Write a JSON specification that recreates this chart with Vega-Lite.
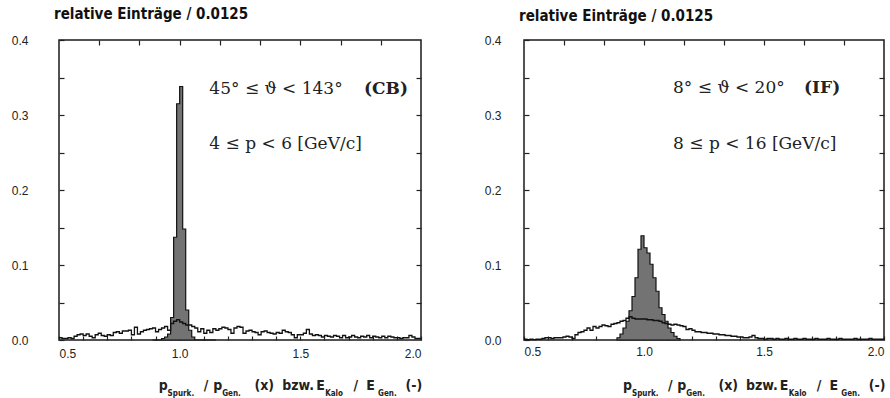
{
  "$schema": "https://vega.github.io/schema/vega-lite/v6.json",
  "background": "white",
  "autosize": {"type": "pad"},
  "padding": {"left": 10, "top": 6, "right": 2, "bottom": 0},
  "config": {
    "view": {"stroke": "#1a1a1a", "strokeWidth": 1.5},
    "axis": {"domain": false, "grid": false, "title": null, "labelFont": "Liberation Sans", "labelFontSize": 12, "labelColor": "#222", "tickColor": "#222", "tickWidth": 1.2},
    "title": {"font": "DejaVu Sans Condensed", "fontSize": 15, "fontWeight": "bold", "color": "#111", "anchor": "start", "frame": "group"}
  },
  "datasets": {
    "calo": [
      {"x": 0.5, "cb": 0.003, "fwd": 0.001}, {"x": 0.5125, "cb": 0.002, "fwd": 0.0005}, {"x": 0.525, "cb": 0.002, "fwd": 0.001}, {"x": 0.5375, "cb": 0.003, "fwd": 0.0005},
      {"x": 0.55, "cb": 0.002, "fwd": 0.001}, {"x": 0.5625, "cb": 0.005, "fwd": 0.001}, {"x": 0.575, "cb": 0.007, "fwd": 0.002}, {"x": 0.5875, "cb": 0.008, "fwd": 0.003},
      {"x": 0.6, "cb": 0.006, "fwd": 0.003}, {"x": 0.6125, "cb": 0.008, "fwd": 0.002}, {"x": 0.625, "cb": 0.005, "fwd": 0.003}, {"x": 0.6375, "cb": 0.003, "fwd": 0.003},
      {"x": 0.65, "cb": 0.007, "fwd": 0.003}, {"x": 0.6625, "cb": 0.009, "fwd": 0.004}, {"x": 0.675, "cb": 0.006, "fwd": 0.005}, {"x": 0.6875, "cb": 0.005, "fwd": 0.004},
      {"x": 0.7, "cb": 0.007, "fwd": 0.002}, {"x": 0.7125, "cb": 0.006, "fwd": 0.007}, {"x": 0.725, "cb": 0.010, "fwd": 0.010}, {"x": 0.7375, "cb": 0.011, "fwd": 0.011},
      {"x": 0.75, "cb": 0.009, "fwd": 0.013}, {"x": 0.7625, "cb": 0.012, "fwd": 0.016}, {"x": 0.775, "cb": 0.012, "fwd": 0.013}, {"x": 0.7875, "cb": 0.013, "fwd": 0.018},
      {"x": 0.8, "cb": 0.007, "fwd": 0.016}, {"x": 0.8125, "cb": 0.017, "fwd": 0.018}, {"x": 0.825, "cb": 0.008, "fwd": 0.020}, {"x": 0.8375, "cb": 0.011, "fwd": 0.019},
      {"x": 0.85, "cb": 0.013, "fwd": 0.018}, {"x": 0.8625, "cb": 0.014, "fwd": 0.021}, {"x": 0.875, "cb": 0.015, "fwd": 0.022}, {"x": 0.8875, "cb": 0.016, "fwd": 0.023},
      {"x": 0.9, "cb": 0.011, "fwd": 0.025}, {"x": 0.9125, "cb": 0.014, "fwd": 0.026}, {"x": 0.925, "cb": 0.016, "fwd": 0.029}, {"x": 0.9375, "cb": 0.018, "fwd": 0.031},
      {"x": 0.95, "cb": 0.013, "fwd": 0.029}, {"x": 0.9625, "cb": 0.022, "fwd": 0.028}, {"x": 0.975, "cb": 0.025, "fwd": 0.028}, {"x": 0.9875, "cb": 0.027, "fwd": 0.028},
      {"x": 1.0, "cb": 0.024, "fwd": 0.028}, {"x": 1.0125, "cb": 0.022, "fwd": 0.027}, {"x": 1.025, "cb": 0.020, "fwd": 0.027}, {"x": 1.0375, "cb": 0.020, "fwd": 0.026},
      {"x": 1.05, "cb": 0.018, "fwd": 0.026}, {"x": 1.0625, "cb": 0.016, "fwd": 0.025}, {"x": 1.075, "cb": 0.011, "fwd": 0.023}, {"x": 1.0875, "cb": 0.015, "fwd": 0.022},
      {"x": 1.1, "cb": 0.009, "fwd": 0.021}, {"x": 1.1125, "cb": 0.013, "fwd": 0.020}, {"x": 1.125, "cb": 0.010, "fwd": 0.021}, {"x": 1.1375, "cb": 0.015, "fwd": 0.020},
      {"x": 1.15, "cb": 0.013, "fwd": 0.019}, {"x": 1.1625, "cb": 0.015, "fwd": 0.018}, {"x": 1.175, "cb": 0.017, "fwd": 0.014}, {"x": 1.1875, "cb": 0.016, "fwd": 0.015},
      {"x": 1.2, "cb": 0.014, "fwd": 0.013}, {"x": 1.2125, "cb": 0.009, "fwd": 0.011}, {"x": 1.225, "cb": 0.016, "fwd": 0.011}, {"x": 1.2375, "cb": 0.018, "fwd": 0.010},
      {"x": 1.25, "cb": 0.017, "fwd": 0.010}, {"x": 1.2625, "cb": 0.009, "fwd": 0.009}, {"x": 1.275, "cb": 0.012, "fwd": 0.009}, {"x": 1.2875, "cb": 0.013, "fwd": 0.008},
      {"x": 1.3, "cb": 0.011, "fwd": 0.008}, {"x": 1.3125, "cb": 0.010, "fwd": 0.007}, {"x": 1.325, "cb": 0.007, "fwd": 0.007}, {"x": 1.3375, "cb": 0.011, "fwd": 0.006},
      {"x": 1.35, "cb": 0.012, "fwd": 0.006}, {"x": 1.3625, "cb": 0.010, "fwd": 0.005}, {"x": 1.375, "cb": 0.009, "fwd": 0.005}, {"x": 1.3875, "cb": 0.008, "fwd": 0.004},
      {"x": 1.4, "cb": 0.010, "fwd": 0.004}, {"x": 1.4125, "cb": 0.009, "fwd": 0.003}, {"x": 1.425, "cb": 0.013, "fwd": 0.003}, {"x": 1.4375, "cb": 0.011, "fwd": 0.004},
      {"x": 1.45, "cb": 0.010, "fwd": 0.006}, {"x": 1.4625, "cb": 0.007, "fwd": 0.003}, {"x": 1.475, "cb": 0.003, "fwd": 0.002}, {"x": 1.4875, "cb": 0.007, "fwd": 0.002},
      {"x": 1.5, "cb": 0.007, "fwd": 0.001}, {"x": 1.5125, "cb": 0.009, "fwd": 0.002}, {"x": 1.525, "cb": 0.014, "fwd": 0.002}, {"x": 1.5375, "cb": 0.008, "fwd": 0.001},
      {"x": 1.55, "cb": 0.006, "fwd": 0.002}, {"x": 1.5625, "cb": 0.007, "fwd": 0.001}, {"x": 1.575, "cb": 0.006, "fwd": 0.001}, {"x": 1.5875, "cb": 0.004, "fwd": 0.002},
      {"x": 1.6, "cb": 0.006, "fwd": 0.001}, {"x": 1.6125, "cb": 0.005, "fwd": 0.001}, {"x": 1.625, "cb": 0.004, "fwd": 0.002}, {"x": 1.6375, "cb": 0.006, "fwd": 0.001},
      {"x": 1.65, "cb": 0.005, "fwd": 0.001}, {"x": 1.6625, "cb": 0.003, "fwd": 0.002}, {"x": 1.675, "cb": 0.006, "fwd": 0.001}, {"x": 1.6875, "cb": 0.003, "fwd": 0.001},
      {"x": 1.7, "cb": 0.004, "fwd": 0.001}, {"x": 1.7125, "cb": 0.006, "fwd": 0.002}, {"x": 1.725, "cb": 0.004, "fwd": 0.001}, {"x": 1.7375, "cb": 0.003, "fwd": 0.001},
      {"x": 1.75, "cb": 0.005, "fwd": 0.001}, {"x": 1.7625, "cb": 0.004, "fwd": 0.002}, {"x": 1.775, "cb": 0.006, "fwd": 0.001}, {"x": 1.7875, "cb": 0.003, "fwd": 0.001},
      {"x": 1.8, "cb": 0.005, "fwd": 0.001}, {"x": 1.8125, "cb": 0.004, "fwd": 0.002}, {"x": 1.825, "cb": 0.003, "fwd": 0.001}, {"x": 1.8375, "cb": 0.005, "fwd": 0.001},
      {"x": 1.85, "cb": 0.003, "fwd": 0.001}, {"x": 1.8625, "cb": 0.005, "fwd": 0.001}, {"x": 1.875, "cb": 0.004, "fwd": 0.002}, {"x": 1.8875, "cb": 0.003, "fwd": 0.001},
      {"x": 1.9, "cb": 0.003, "fwd": 0.001}, {"x": 1.9125, "cb": 0.002, "fwd": 0.001}, {"x": 1.925, "cb": 0.003, "fwd": 0.001}, {"x": 1.9375, "cb": 0.003, "fwd": 0.002},
      {"x": 1.95, "cb": 0.006, "fwd": 0.001}, {"x": 1.9625, "cb": 0.004, "fwd": 0.001}, {"x": 1.975, "cb": 0.002, "fwd": 0.001}, {"x": 1.9875, "cb": 0.002, "fwd": 0.001},
      {"x": 2.0, "cb": 0.002, "fwd": 0.001}
    ],
    "track": [
      {"x": 0.8875, "cb": 0, "fwd": 0.003}, {"x": 0.9, "cb": 0, "fwd": 0.008}, {"x": 0.9125, "cb": 0, "fwd": 0.016}, {"x": 0.925, "cb": 0.002, "fwd": 0.025},
      {"x": 0.9375, "cb": 0.004, "fwd": 0.039}, {"x": 0.95, "cb": 0.008, "fwd": 0.058}, {"x": 0.9625, "cb": 0.03, "fwd": 0.083}, {"x": 0.975, "cb": 0.137, "fwd": 0.121},
      {"x": 0.9875, "cb": 0.315, "fwd": 0.139}, {"x": 1.0, "cb": 0.338, "fwd": 0.123}, {"x": 1.0125, "cb": 0.148, "fwd": 0.116}, {"x": 1.025, "cb": 0.04, "fwd": 0.101},
      {"x": 1.0375, "cb": 0.013, "fwd": 0.083}, {"x": 1.05, "cb": 0.004, "fwd": 0.065}, {"x": 1.0625, "cb": 0, "fwd": 0.043}, {"x": 1.075, "cb": 0, "fwd": 0.034},
      {"x": 1.0875, "cb": 0, "fwd": 0.025}, {"x": 1.1, "cb": 0, "fwd": 0.016}, {"x": 1.1125, "cb": 0, "fwd": 0.01}, {"x": 1.125, "cb": 0, "fwd": 0.005},
      {"x": 1.1375, "cb": 0, "fwd": 0.002}, {"x": 1.15, "cb": 0, "fwd": 0}
    ],
    "xtitle": [
      {"x": 0.913, "y": -0.061, "t": "p"}, {"x": 1.10, "y": -0.061, "t": "/"}, {"x": 1.139, "y": -0.061, "t": "p"},
      {"x": 1.31, "y": -0.061, "t": "(x)"}, {"x": 1.425, "y": -0.061, "t": "bzw."}, {"x": 1.566, "y": -0.061, "t": "E"},
      {"x": 1.72, "y": -0.061, "t": "/"}, {"x": 1.773, "y": -0.061, "t": "E"}, {"x": 1.936, "y": -0.061, "t": "(-)"}
    ],
    "xsub": [
      {"x": 0.95, "y": -0.072, "t": "Spurk."}, {"x": 1.176, "y": -0.072, "t": "Gen."},
      {"x": 1.603, "y": -0.072, "t": "Kalo"}, {"x": 1.822, "y": -0.072, "t": "Gen."}
    ]
  },
  "spacing": 58,
  "hconcat": [
    {
      "width": 362,
      "height": 300,
      "title": {"text": "relative Einträge / 0.0125", "offset": 12, "dx": -5},
      "resolve": {"axis": {"x": "independent", "y": "independent"}},
      "layer": [
        {
          "data": {"name": "track"},
          "mark": {"type": "area", "interpolate": "step-after", "fill": "#737373", "stroke": "#111", "strokeWidth": 1.2},
          "encoding": {
            "x": {"field": "x", "type": "quantitative", "scale": {"domain": [0.5, 2.0], "nice": false, "zero": false},
              "axis": {"orient": "bottom", "values": [0.5, 0.6, 0.7, 0.8, 0.9, 1.0, 1.1, 1.2, 1.3, 1.4, 1.5, 1.6, 1.7, 1.8, 1.9, 2.0], "labelExpr": "abs(round(datum.value*2) - datum.value*2) < 0.001 ? format(datum.value, '.1f') : ''", "tickSize": -4, "labelPadding": 12}},
            "y": {"field": "cb", "type": "quantitative", "stack": null, "scale": {"domain": [0, 0.4], "nice": false},
              "axis": {"orient": "left", "values": [0, 0.05, 0.1, 0.15, 0.2, 0.25, 0.3, 0.35, 0.4], "labelExpr": "abs(round(datum.value*10) - datum.value*10) < 0.001 ? format(datum.value, '.1f') : ''", "tickSize": -5, "labelPadding": 36}}
          }
        },
        {
          "data": {"name": "calo"},
          "mark": {"type": "line", "interpolate": "step-after", "stroke": "#111", "strokeWidth": 1.3},
          "encoding": {
            "x": {"field": "x", "type": "quantitative", "scale": {"domain": [0.5, 2.0], "nice": false, "zero": false},
              "axis": {"orient": "top", "labels": false, "values": [0.6667, 0.8333, 1.0, 1.1667, 1.3333, 1.5, 1.6667, 1.8333], "tickSize": -5}},
            "y": {"field": "cb", "type": "quantitative", "scale": {"domain": [0, 0.4], "nice": false},
              "axis": {"orient": "right", "labels": false, "values": [0.05, 0.1, 0.15, 0.2, 0.25, 0.3, 0.35], "tickSize": -5}}
          }
        },
        {
          "data": {"values": [{"x": 1.123, "y": 0.335, "t": "45° ≤ ϑ < 143°"}, {"x": 1.123, "y": 0.262, "t": "4 ≤ p < 6 [GeV/c]"}]},
          "mark": {"type": "text", "align": "left", "baseline": "middle", "font": "DejaVu Serif", "fontSize": 17, "color": "#222"},
          "encoding": {
            "x": {"field": "x", "type": "quantitative", "scale": {"domain": [0.5, 2.0], "nice": false, "zero": false}, "axis": null},
            "y": {"field": "y", "type": "quantitative", "scale": {"domain": [0, 0.4], "nice": false}, "axis": null},
            "text": {"field": "t"}
          }
        },
        {
          "data": {"values": [{"x": 1.764, "y": 0.335, "t": "(CB)"}]},
          "mark": {"type": "text", "align": "left", "baseline": "middle", "font": "DejaVu Serif", "fontSize": 17, "fontWeight": "bold", "color": "#222"},
          "encoding": {
            "x": {"field": "x", "type": "quantitative", "scale": {"domain": [0.5, 2.0], "nice": false, "zero": false}, "axis": null},
            "y": {"field": "y", "type": "quantitative", "scale": {"domain": [0, 0.4], "nice": false}, "axis": null},
            "text": {"field": "t"}
          }
        },
        {
          "data": {"name": "xtitle"},
          "mark": {"type": "text", "align": "left", "baseline": "middle", "font": "DejaVu Sans Condensed", "fontSize": 14, "fontWeight": "bold", "color": "#222"},
          "encoding": {
            "x": {"field": "x", "type": "quantitative", "scale": {"domain": [0.5, 2.0], "nice": false, "zero": false}, "axis": null},
            "y": {"field": "y", "type": "quantitative", "scale": {"domain": [0, 0.4], "nice": false}, "axis": null},
            "text": {"field": "t"}
          }
        },
        {
          "data": {"name": "xsub"},
          "mark": {"type": "text", "align": "left", "baseline": "middle", "font": "DejaVu Sans Condensed", "fontSize": 8, "fontWeight": "bold", "color": "#222"},
          "encoding": {
            "x": {"field": "x", "type": "quantitative", "scale": {"domain": [0.5, 2.0], "nice": false, "zero": false}, "axis": null},
            "y": {"field": "y", "type": "quantitative", "scale": {"domain": [0, 0.4], "nice": false}, "axis": null},
            "text": {"field": "t"}
          }
        }
      ]
    },
    {
      "width": 360,
      "height": 300,
      "title": {"text": "relative Einträge / 0.0125", "offset": 10, "dx": -5},
      "resolve": {"axis": {"x": "independent", "y": "independent"}},
      "layer": [
        {
          "data": {"name": "track"},
          "mark": {"type": "area", "interpolate": "step-after", "fill": "#737373", "stroke": "#111", "strokeWidth": 1.2},
          "encoding": {
            "x": {"field": "x", "type": "quantitative", "scale": {"domain": [0.5, 2.0], "nice": false, "zero": false},
              "axis": {"orient": "bottom", "values": [0.5, 0.6, 0.7, 0.8, 0.9, 1.0, 1.1, 1.2, 1.3, 1.4, 1.5, 1.6, 1.7, 1.8, 1.9, 2.0], "labelExpr": "abs(round(datum.value*2) - datum.value*2) < 0.001 ? format(datum.value, '.1f') : ''", "tickSize": -4, "labelPadding": 10}},
            "y": {"field": "fwd", "type": "quantitative", "stack": null, "scale": {"domain": [0, 0.4], "nice": false},
              "axis": {"orient": "left", "values": [0, 0.05, 0.1, 0.15, 0.2, 0.25, 0.3, 0.35, 0.4], "labelExpr": "abs(round(datum.value*10) - datum.value*10) < 0.001 ? format(datum.value, '.1f') : ''", "tickSize": -5, "labelPadding": 28}}
          }
        },
        {
          "data": {"name": "calo"},
          "mark": {"type": "line", "interpolate": "step-after", "stroke": "#111", "strokeWidth": 1.3},
          "encoding": {
            "x": {"field": "x", "type": "quantitative", "scale": {"domain": [0.5, 2.0], "nice": false, "zero": false},
              "axis": {"orient": "top", "labels": false, "values": [0.6667, 0.8333, 1.0, 1.1667, 1.3333, 1.5, 1.6667, 1.8333], "tickSize": -5}},
            "y": {"field": "fwd", "type": "quantitative", "scale": {"domain": [0, 0.4], "nice": false},
              "axis": {"orient": "right", "labels": false, "values": [0.05, 0.1, 0.15, 0.2, 0.25, 0.3, 0.35], "tickSize": -5}}
          }
        },
        {
          "data": {"values": [{"x": 1.121, "y": 0.336, "t": "8° ≤ ϑ < 20°"}, {"x": 1.121, "y": 0.262, "t": "8 ≤ p < 16 [GeV/c]"}]},
          "mark": {"type": "text", "align": "left", "baseline": "middle", "font": "DejaVu Serif", "fontSize": 17, "color": "#222"},
          "encoding": {
            "x": {"field": "x", "type": "quantitative", "scale": {"domain": [0.5, 2.0], "nice": false, "zero": false}, "axis": null},
            "y": {"field": "y", "type": "quantitative", "scale": {"domain": [0, 0.4], "nice": false}, "axis": null},
            "text": {"field": "t"}
          }
        },
        {
          "data": {"values": [{"x": 1.667, "y": 0.336, "t": "(IF)"}]},
          "mark": {"type": "text", "align": "left", "baseline": "middle", "font": "DejaVu Serif", "fontSize": 17, "fontWeight": "bold", "color": "#222"},
          "encoding": {
            "x": {"field": "x", "type": "quantitative", "scale": {"domain": [0.5, 2.0], "nice": false, "zero": false}, "axis": null},
            "y": {"field": "y", "type": "quantitative", "scale": {"domain": [0, 0.4], "nice": false}, "axis": null},
            "text": {"field": "t"}
          }
        },
        {
          "data": {"name": "xtitle"},
          "mark": {"type": "text", "align": "left", "baseline": "middle", "font": "DejaVu Sans Condensed", "fontSize": 14, "fontWeight": "bold", "color": "#222"},
          "encoding": {
            "x": {"field": "x", "type": "quantitative", "scale": {"domain": [0.5, 2.0], "nice": false, "zero": false}, "axis": null},
            "y": {"field": "y", "type": "quantitative", "scale": {"domain": [0, 0.4], "nice": false}, "axis": null},
            "text": {"field": "t"}
          }
        },
        {
          "data": {"name": "xsub"},
          "mark": {"type": "text", "align": "left", "baseline": "middle", "font": "DejaVu Sans Condensed", "fontSize": 8, "fontWeight": "bold", "color": "#222"},
          "encoding": {
            "x": {"field": "x", "type": "quantitative", "scale": {"domain": [0.5, 2.0], "nice": false, "zero": false}, "axis": null},
            "y": {"field": "y", "type": "quantitative", "scale": {"domain": [0, 0.4], "nice": false}, "axis": null},
            "text": {"field": "t"}
          }
        }
      ]
    }
  ]
}
